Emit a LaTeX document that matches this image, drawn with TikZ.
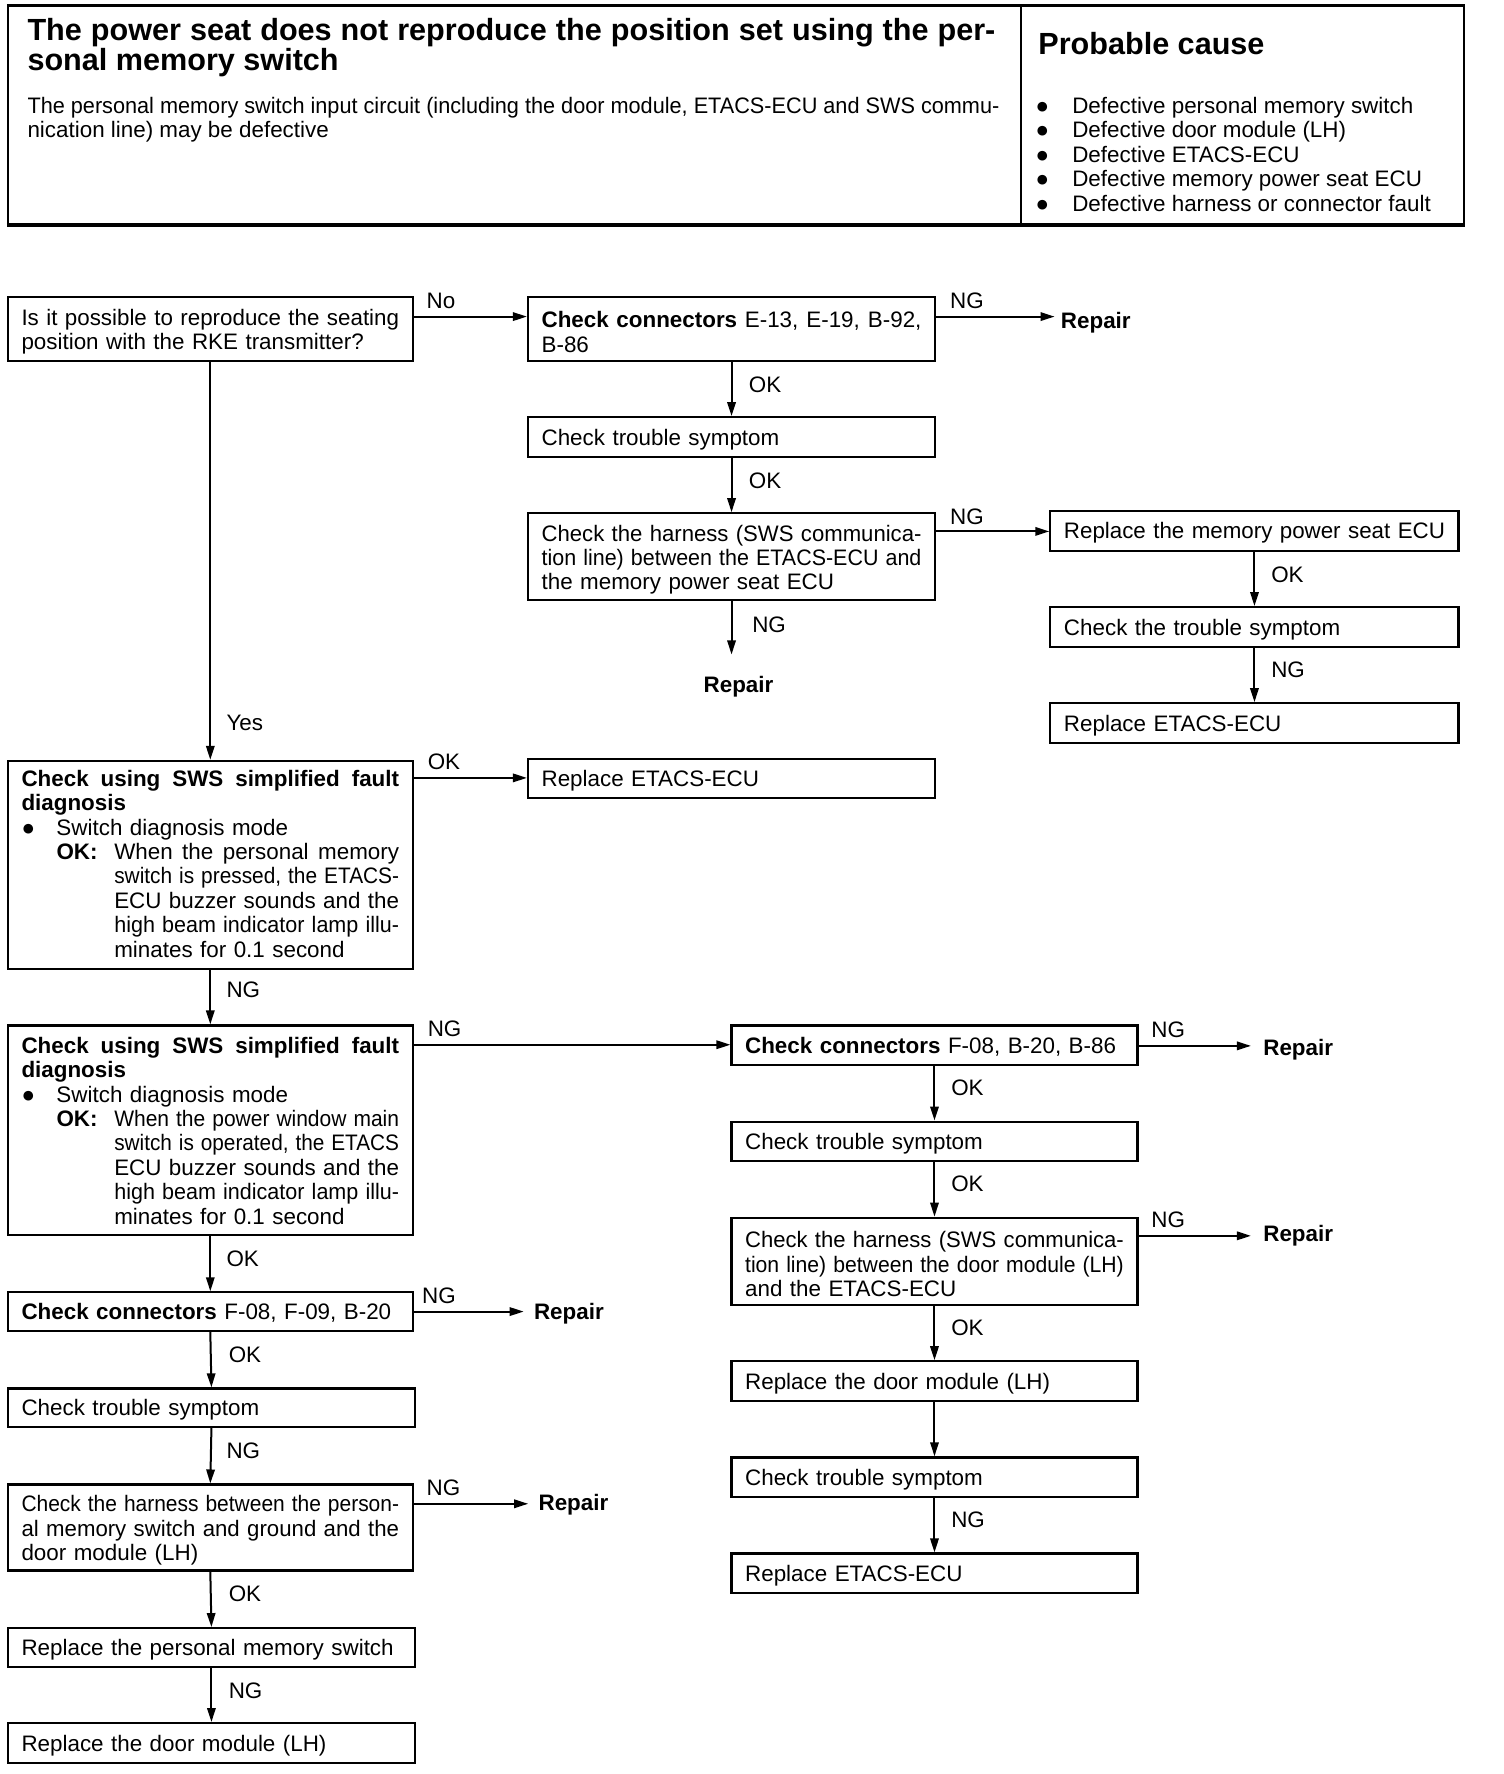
\documentclass[tikz,border=0pt]{standalone}
\usepackage{fontspec}
\usepackage{graphicx}
\setmainfont{Liberation Sans}
\usetikzlibrary{arrows.meta,calc}
\newcommand{\fs}{\fontsize{11.2}{12.2}\selectfont}
\newcommand{\ftitle}{\fontsize{15.3}{15.5}\selectfont\bfseries}
\newsavebox\jlbox
% justified line of given width: stretch spaces, or squeeze if too wide
\newcommand{\jlw}[2]{\sbox\jlbox{#2}\ifdim\wd\jlbox>#1\relax\resizebox{#1}{\height}{\usebox\jlbox}\else\hbox to #1{\spaceskip=0.278em plus 1fil\relax#2}\fi}
\newcommand{\jl}[1]{\jlw{\bxt}{#1}}
\newcommand{\jli}[1]{\hspace*{46.4pt}\jlw{\bxti}{#1}}
% single flush-left line that never wraps
\newcommand{\fl}[1]{\sbox\jlbox{#1}\ifdim\wd\jlbox>\bxt\relax\resizebox{\bxt}{\height}{\usebox\jlbox}\else\usebox\jlbox\fi}
\newcommand{\boxshift}{-2.8pt}
\newcommand{\bx}[6]{%
  \pgfmathsetlengthmacro\bxw{(#4-#2)*0.5654pt}%
  \pgfmathsetlengthmacro\bxh{(#5-#3)*0.5654pt}%
  \pgfmathsetlengthmacro\bxt{(#4-#2)*0.5654pt-13.6pt}%
  \pgfmathsetlengthmacro\bxti{(#4-#2)*0.5654pt-13.6pt-46.4pt}%
  \node[box, minimum width=\bxw, minimum height=\bxh, text width=\bxt] (#1) at ({(#2+#4)/2},{(#3+#5)/2}) {#6};}
\begin{document}
\begin{tikzpicture}[x=0.5654pt,y=-0.5654pt,
  box/.style={draw, line width=1.1pt, inner xsep=6.8pt, inner ysep=0pt, font=\fs, align=left,
    execute at end node={\vspace*{\boxshift}}},
  arr/.style={-{Triangle[length=7pt,width=4.2pt]}, line width=1pt},
  lbl/.style={font=\fs, inner sep=0pt, anchor=west},
  rep/.style={font=\fs\bfseries, inner sep=0pt, anchor=west},
  hd/.style={inner sep=0pt, anchor=base west}]
\useasboundingbox (0,0) rectangle (1330,1569);
% ---------- header ----------
\draw[line width=0.8pt] (7,5) -- (7,199) (1295,5) -- (1295,199) (903,5) -- (903,199);
\draw[line width=1.6pt] (6,5) -- (1296,5) (6,199) -- (1296,199);
\node[hd, font=\ftitle] (t1) at (24,36) {\jlw{484pt}{The power seat does not reproduce the position set using the per-}};
\node[hd, font=\ftitle] (t2) at (24,62) {sonal memory switch};
\node[hd, font=\fs] (d1) at (24,100) {\jlw{486pt}{The personal memory switch input circuit (including the door module, ETACS-ECU and SWS commu-}};
\node[hd, font=\fs] (d2) at (24,122) {nication line) may be defective};
\node[hd, font=\ftitle] (pc) at (918,48) {Probable cause};
\foreach \yy/\tt [count=\i] in {100/Defective personal memory switch, 122/Defective door module (LH), 144/Defective ETACS-ECU, 165/Defective memory power seat ECU, 187/Defective harness or connector fault}{
  \node[inner sep=0pt, anchor=base, font=\fs] (pb\i) at (922,\yy) {●};
  \node[hd, font=\fs] (pt\i) at (948,\yy) {\tt};
}
% ---------- boxes ----------
\bx{B1}{7}{263}{365}{319}{\jl{Is it possible to reproduce the seating}\\position with the RKE transmitter?}
\bx{B2}{467}{263}{827}{319}{\jl{\textbf{Check connectors} E-13, E-19, B-92,}\\B-86}
\bx{B3}{467}{369}{827}{404}{\fl{Check trouble symptom}}
\bx{B4}{467}{454}{827}{531}{\jl{Check the harness (SWS communica-}\\\jl{tion line) between the ETACS-ECU and}\\the memory power seat ECU}
\bx{B5}{929}{452}{1290}{487}{\fl{Replace the memory power seat ECU}}
\bx{B6}{929}{537}{1290}{572}{\fl{Check the trouble symptom}}
\bx{B7}{929}{622}{1290}{657}{\fl{Replace ETACS-ECU}}
\renewcommand{\boxshift}{1.2pt}
\bx{B8}{7}{673}{365}{857}{\jl{\bfseries Check using SWS simplified fault}\\\textbf{diagnosis}\\\makebox[17.5pt][l]{●}Switch diagnosis mode\\\hspace*{17.5pt}\makebox[28.9pt][l]{\bfseries OK:}\jlw{\bxti}{When the personal memory}\\\jli{switch is pressed, the ETACS-}\\\jli{ECU buzzer sounds and the}\\\jli{high beam indicator lamp illu-}\\\hspace*{46.4pt}minates for 0.1 second}
\renewcommand{\boxshift}{-0.6pt}
\bx{B10}{7}{907}{365}{1092}{\jl{\bfseries Check using SWS simplified fault}\\\textbf{diagnosis}\\\makebox[17.5pt][l]{●}Switch diagnosis mode\\\hspace*{17.5pt}\makebox[28.9pt][l]{\bfseries OK:}\jlw{\bxti}{When the power window main}\\\jli{switch is operated, the ETACS}\\\jli{ECU buzzer sounds and the}\\\jli{high beam indicator lamp illu-}\\\hspace*{46.4pt}minates for 0.1 second}
\renewcommand{\boxshift}{-2.8pt}
\bx{B9}{467}{671}{827}{706}{\fl{Replace ETACS-ECU}}
\bx{B11}{647}{907}{1006}{942}{\fl{\textbf{Check connectors} F-08, B-20, B-86}}
\bx{B12}{647}{992}{1006}{1027}{\fl{Check trouble symptom}}
\bx{B13}{647}{1077}{1006}{1154}{\jl{Check the harness (SWS communica-}\\\jl{tion line) between the door module (LH)}\\and the ETACS-ECU}
\bx{B14}{647}{1204}{1006}{1239}{\fl{Replace the door module (LH)}}
\bx{B15}{647}{1289}{1006}{1324}{\fl{Check trouble symptom}}
\bx{B16}{647}{1374}{1006}{1409}{\fl{Replace ETACS-ECU}}
\bx{B17}{7}{1143}{365}{1177}{\fl{\textbf{Check connectors} F-08, F-09, B-20}}
\bx{B18}{7}{1228}{367}{1262}{\fl{Check trouble symptom}}
\bx{B19}{7}{1313}{365}{1389}{\jl{Check the harness between the person-}\\\jl{al memory switch and ground and the}\\door module (LH)}
\bx{B20}{7}{1440}{367}{1474}{\fl{Replace the personal memory switch}}
\bx{B21}{7}{1524}{367}{1559}{\fl{Replace the door module (LH)}}
% ---------- repair labels ----------
\node[rep] (R1) at (938,285) {Repair};
\node[rep] (R2) at (622,607) {Repair};
\node[rep] (R3) at (1117,928) {Repair};
\node[rep] (R4) at (1117,1093) {Repair};
\node[rep] (R5) at (472,1162) {Repair};
\node[rep] (R6) at (476,1331) {Repair};
% ---------- connectors ----------
\draw[arr] (B1.east |- 0,280) -- (B2.west |- 0,280);
\draw[arr, shorten >=3pt] (B2.east |- 0,280) -- (R1.west |- 0,280);
\draw[arr] (B2.south) -- (B3.north);
\draw[arr] (B3.south) -- (B4.north);
\draw[arr, shorten >=10.5pt] (B4.south) -- (B4.south |- R2.north);
\draw[arr] (B4.east |- 0,470) -- (B5.west |- 0,470);
\draw[arr] (B5.south) -- (B6.north);
\draw[arr] (B6.south) -- (B7.north);
\draw[arr] (B1.south) -- (B8.north);
\draw[arr] (B8.east |- 0,688) -- (B9.west |- 0,688);
\draw[arr] (B8.south) -- (B10.north);
\draw[arr] (B10.east |- 0,924) -- (B11.west |- 0,924);
\draw[arr, shorten >=6pt] (B11.east |- 0,925) -- (R3.west |- 0,925);
\draw[arr] (B11.south) -- (B12.north);
\draw[arr] (B12.south) -- (B13.north);
\draw[arr, shorten >=6pt] (B13.east |- 0,1093) -- (R4.west |- 0,1093);
\draw[arr] (B13.south) -- (B14.north);
\draw[arr] (B14.south) -- (B15.north);
\draw[arr] (B15.south) -- (B16.north);
\draw[arr] (B10.south) -- (B17.north);
\draw[arr, shorten >=5pt] (B17.east |- 0,1160) -- (R5.west |- 0,1160);
\draw[arr] (B17.south) -- (B18.north);
\draw[arr] (B18.south) -- (B19.north);
\draw[arr, shorten >=5pt] (B19.east |- 0,1330) -- (R6.west |- 0,1330);
\draw[arr] (B19.south) -- (B20.north);
\draw[arr] (B20.south) -- (B21.north);
% ---------- connector labels ----------
\node[lbl] at (377,266) {No};
\node[lbl] at (840,266) {NG};
\node[lbl] at (662,340) {OK};
\node[lbl] at (662,425) {OK};
\node[lbl] at (665,553) {NG};
\node[lbl] at (840,457) {NG};
\node[lbl] at (1124,508) {OK};
\node[lbl] at (1124,592) {NG};
\node[lbl] at (200,639) {Yes};
\node[lbl] at (378,674) {OK};
\node[lbl] at (200,875) {NG};
\node[lbl] at (378,910) {NG};
\node[lbl] at (1018,911) {NG};
\node[lbl] at (841,962) {OK};
\node[lbl] at (841,1047) {OK};
\node[lbl] at (1018,1079) {NG};
\node[lbl] at (841,1174) {OK};
\node[lbl] at (841,1344) {NG};
\node[lbl] at (200,1113) {OK};
\node[lbl] at (373,1146) {NG};
\node[lbl] at (202,1198) {OK};
\node[lbl] at (200,1283) {NG};
\node[lbl] at (377,1316) {NG};
\node[lbl] at (202,1410) {OK};
\node[lbl] at (202,1495) {NG};
\end{tikzpicture}
\end{document}
